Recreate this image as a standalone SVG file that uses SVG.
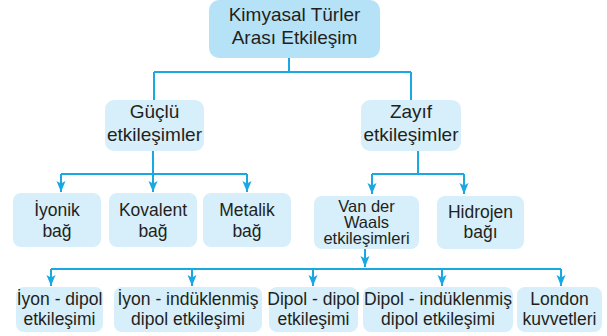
<svg xmlns="http://www.w3.org/2000/svg" width="607" height="336" viewBox="0 0 607 336">
<style>
.b{fill:#d7effb}
.t{fill:#b6e2f8}
text{font-family:"Liberation Sans",Arial,sans-serif;fill:#231f20;text-anchor:middle}
.l{font-size:19px}
.s{font-size:17.5px}
.v{font-size:16.5px}
.c{fill:none;stroke:#1aa8e2;stroke-width:2}
</style>
<defs>
<marker id="d" markerUnits="userSpaceOnUse" markerWidth="12" markerHeight="12" viewBox="0 0 12 12" refX="6" refY="11" orient="0">
<path d="M1.5,0 L6,2.5 L10.5,0 L6,11 z" fill="#1aa8e2"/>
</marker>
</defs>
<g id="connectors">
<path class="c" d="M289,58 V72 M154,72 H411 M154,72 V100 M411,72 V100"/>
<path class="c" d="M153,151 V174 M61,174 H247"/>
<path class="c" d="M61,174 V192" marker-end="url(#d)"/>
<path class="c" d="M153,174 V192" marker-end="url(#d)"/>
<path class="c" d="M247,174 V192" marker-end="url(#d)"/>
<path class="c" d="M418,151 V174 M372,174 H464"/>
<path class="c" d="M372,174 V194" marker-end="url(#d)"/>
<path class="c" d="M464,174 V194" marker-end="url(#d)"/>
<path class="c" d="M365,249 V267" marker-end="url(#d)"/>
<path class="c" d="M51,269 H561"/>
<path class="c" d="M51,269 V286" marker-end="url(#d)"/>
<path class="c" d="M192,269 V286" marker-end="url(#d)"/>
<path class="c" d="M313,269 V286" marker-end="url(#d)"/>
<path class="c" d="M442,269 V286" marker-end="url(#d)"/>
<path class="c" d="M561,269 V286" marker-end="url(#d)"/>
</g>
<g id="root"><rect class="t" x="209" y="0" width="171" height="58" rx="10"/><text class="l" x="294.5" y="21">Kimyasal Türler</text><text class="l" x="294.5" y="44">Arası Etkileşim</text></g>
<g id="guclu"><rect class="b" x="105" y="100" width="99" height="51" rx="9"/><text class="l" x="154.5" y="118">Güçlü</text><text class="l" x="154.5" y="141">etkileşimler</text></g>
<g id="zayif"><rect class="b" x="361" y="100" width="100" height="51" rx="9"/><text class="l" x="411" y="118">Zayıf</text><text class="l" x="411" y="141">etkileşimler</text></g>
<g id="iyonik"><rect class="b" x="13" y="193" width="88" height="54" rx="8"/><text class="s" x="57" y="216">İyonik</text><text class="s" x="57" y="237">bağ</text></g>
<g id="kovalent"><rect class="b" x="109" y="193" width="88" height="54" rx="8"/><text class="s" x="153" y="216">Kovalent</text><text class="s" x="153" y="237">bağ</text></g>
<g id="metalik"><rect class="b" x="203" y="193" width="88" height="54" rx="8"/><text class="s" x="247" y="216">Metalik</text><text class="s" x="247" y="237">bağ</text></g>
<g id="vdw"><rect class="b" x="314" y="196" width="105" height="53" rx="8"/><text class="v" x="366.5" y="212">Van der</text><text class="v" x="366.5" y="228">Waals</text><text class="v" x="366.5" y="244">etkileşimleri</text></g>
<g id="hidrojen"><rect class="b" x="437" y="196" width="87" height="53" rx="8"/><text class="s" x="480.5" y="218">Hidrojen</text><text class="s" x="480.5" y="238">bağı</text></g>
<g id="iyondipol"><rect class="b" x="16" y="287" width="87" height="45" rx="8"/><text class="s" x="59.5" y="305">İyon - dipol</text><text class="s" x="59.5" y="325">etkileşimi</text></g>
<g id="iyonind"><rect class="b" x="114" y="287" width="148" height="45" rx="8"/><text class="s" x="188" y="305">İyon - indüklenmiş</text><text class="s" x="188" y="325">dipol etkileşimi</text></g>
<g id="dipoldipol"><rect class="b" x="269" y="287" width="89" height="45" rx="8"/><text class="s" x="313.5" y="305">Dipol - dipol</text><text class="s" x="313.5" y="325">etkileşimi</text></g>
<g id="dipolind"><rect class="b" x="363" y="287" width="150" height="45" rx="8"/><text class="s" x="438" y="305">Dipol - indüklenmiş</text><text class="s" x="438" y="325">dipol etkileşimi</text></g>
<g id="london"><rect class="b" x="517" y="287" width="85" height="45" rx="8"/><text class="s" x="559.5" y="305">London</text><text class="s" x="559.5" y="325">kuvvetleri</text></g>
</svg>
